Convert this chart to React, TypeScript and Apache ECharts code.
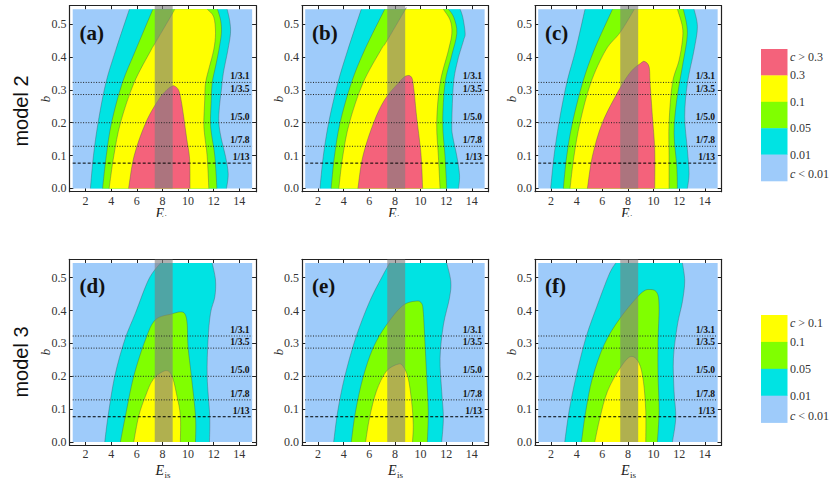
import React, { useEffect, useRef } from "react";
import * as echarts from "echarts";

// ---------- data ----------
const xTicks = [2, 4, 6, 8, 10, 12, 14];
const yTicks = [0, 0.1, 0.2, 0.3, 0.4, 0.5];
const refValues = [1 / 3.1, 1 / 3.5, 1 / 5.0, 1 / 7.8, 1 / 13];
const refLabels = ["1/3.1", "1/3.5", "1/5.0", "1/7.8", "1/13"];
const bandRange = [7.4, 8.8];
const panelNames = ["(a)", "(b)", "(c)", "(d)", "(e)", "(f)"];
const model2Legend = ["c > 0.3", "0.3", "0.1", "0.05", "0.01", "c < 0.01"];
const model3Legend = ["c > 0.1", "0.1", "0.05", "0.01", "c < 0.01"];
const rowTitles = ["model 2", "model 3"];

// contour boundaries (each chain from bottom to top)
const aCyanL = [[2.38, 0], [2.62, 0.1], [2.98, 0.2], [3.58, 0.32], [4.35, 0.42], [5.42, 0.545]];
const aCyanR = [[13.0, 0], [13.13, 0.045], [12.92, 0.098], [12.6, 0.15], [12.4, 0.2], [12.45, 0.25], [12.6, 0.3], [12.75, 0.35], [13.1, 0.42], [13.31, 0.472], [13.25, 0.51], [13.05, 0.545]];
const aGreenL = [[3.33, 0], [3.62, 0.1], [4.03, 0.2], [4.86, 0.32], [5.9, 0.42], [7.25, 0.545]];
const aGreenR = [[12.25, 0], [12.09, 0.098], [11.85, 0.16], [11.75, 0.2], [11.8, 0.26], [11.88, 0.32], [12.14, 0.37], [12.4, 0.42], [12.6, 0.472], [12.55, 0.51], [12.3, 0.545]];
const aYellowL = [[3.84, 0], [4.21, 0.1], [4.73, 0.2], [5.77, 0.32], [7.1, 0.42], [7.4, 0.44], [8.75, 0.53], [8.95, 0.545]];
const aYellowR = [[11.62, 0], [11.49, 0.098], [11.3, 0.16], [11.23, 0.2], [11.3, 0.27], [11.36, 0.32], [11.67, 0.371], [12.0, 0.421], [12.14, 0.472], [12.0, 0.522], [11.5, 0.545]];
const aRedL = [[5.36, 0], [5.8, 0.1], [6.7, 0.2], [7.7, 0.27], [8.35, 0.3], [8.7, 0.31], [8.92, 0.312]];
const aRedR = [[10.15, 0], [10.12, 0.09], [9.9, 0.15], [9.65, 0.22], [9.45, 0.27], [9.25, 0.3], [8.92, 0.312]];

const bCyanL = [[2.15, 0], [2.41, 0.098], [2.83, 0.2], [3.54, 0.32], [4.32, 0.421], [5.37, 0.545]];
const bCyanR = [[12.96, 0], [13.04, 0.04], [12.83, 0.098], [12.5, 0.16], [12.44, 0.2], [12.57, 0.32], [12.9, 0.39], [13.35, 0.45], [13.48, 0.472], [13.3, 0.52], [13.09, 0.545]];
const bGreenL = [[3.02, 0], [3.28, 0.098], [3.72, 0.2], [4.59, 0.32], [5.63, 0.421], [7.2, 0.545]];
const bGreenR = [[12.04, 0], [11.91, 0.098], [11.73, 0.2], [11.91, 0.32], [12.4, 0.4], [12.83, 0.472], [12.6, 0.52], [12.18, 0.545]];
const bYellowL = [[3.62, 0], [3.93, 0.098], [4.45, 0.2], [5.5, 0.32], [6.9, 0.421], [7.33, 0.446], [8.77, 0.542], [8.8, 0.545]];
const bYellowR = [[11.52, 0], [11.39, 0.098], [11.26, 0.2], [11.52, 0.32], [12.18, 0.421], [12.44, 0.472], [12.31, 0.512], [11.78, 0.545]];
const bRedL = [[5.11, 0], [5.5, 0.098], [6.34, 0.2], [7.2, 0.27], [8.25, 0.32], [8.85, 0.342]];
const bRedR = [[10.16, 0], [10.1, 0.06], [10.0, 0.118], [9.69, 0.219], [9.48, 0.3], [9.3, 0.338], [8.85, 0.342]];

const cCyanL = [[1.97, 0], [2.23, 0.098], [2.62, 0.2], [3.22, 0.32], [3.92, 0.421], [4.65, 0.545]];
const cCyanR = [[12.64, 0], [12.77, 0.046], [12.64, 0.118], [12.43, 0.219], [12.64, 0.32], [13.16, 0.421], [13.42, 0.492], [13.16, 0.545]];
const cGreenL = [[2.96, 0], [3.22, 0.098], [3.67, 0.2], [4.45, 0.32], [5.36, 0.421], [6.79, 0.545]];
const cGreenR = [[11.86, 0], [11.81, 0.068], [11.6, 0.169], [11.81, 0.27], [12.25, 0.371], [12.64, 0.472], [12.33, 0.545]];
const cYellowL = [[3.48, 0], [3.79, 0.098], [4.26, 0.2], [5.09, 0.32], [6.27, 0.421], [7.4, 0.475], [8.5, 0.545]];
const cYellowR = [[11.21, 0], [11.21, 0.098], [11.21, 0.2], [11.47, 0.32], [11.99, 0.39], [12.25, 0.451], [12.25, 0.492], [11.86, 0.545]];
const cRedL = [[4.84, 0], [5.23, 0.098], [6.01, 0.2], [7.31, 0.3], [8.22, 0.355], [9.0, 0.381], [9.31, 0.386]];
const cRedR = [[10.09, 0], [10.09, 0.118], [9.91, 0.219], [9.73, 0.32], [9.65, 0.37], [9.31, 0.386]];

const dCyanL = [[3.5, 0], [3.76, 0.079], [4.28, 0.2], [5.06, 0.311], [5.89, 0.392], [6.93, 0.495], [7.85, 0.545]];
const dCyanR = [[11.67, 0], [11.69, 0.079], [11.49, 0.2], [11.56, 0.311], [11.75, 0.392], [12.09, 0.442], [12.14, 0.493], [11.88, 0.545]];
const dGreenL = [[4.72, 0], [5.11, 0.079], [5.76, 0.2], [6.67, 0.311], [7.45, 0.372], [8.75, 0.39], [9.4, 0.396]];
const dGreenR = [[10.58, 0], [10.58, 0.079], [10.26, 0.2], [10.0, 0.29], [9.93, 0.361], [9.75, 0.39], [9.4, 0.396]];
const dYellowL = [[5.76, 0], [6.15, 0.079], [6.67, 0.139], [7.27, 0.19], [8.23, 0.217]];
const dYellowR = [[9.4, 0], [9.4, 0.079], [9.14, 0.139], [8.75, 0.2], [8.23, 0.217]];

const eCyanL = [[3.22, 0], [3.54, 0.094], [4.06, 0.195], [4.93, 0.316], [6.02, 0.427], [7.07, 0.508], [7.6, 0.545]];
const eCyanR = [[11.65, 0], [11.78, 0.074], [11.65, 0.154], [11.52, 0.255], [11.78, 0.356], [12.25, 0.437], [12.36, 0.488], [12.04, 0.545]];
const eGreenL = [[4.59, 0], [4.93, 0.094], [5.5, 0.195], [6.29, 0.286], [7.33, 0.356], [8.6, 0.415], [9.69, 0.429]];
const eGreenR = [[10.53, 0], [10.6, 0.094], [10.47, 0.205], [10.34, 0.306], [10.21, 0.397], [10.08, 0.422], [9.69, 0.429]];
const eYellowL = [[5.71, 0], [6.02, 0.074], [6.55, 0.154], [7.33, 0.215], [8.25, 0.237]];
const eYellowR = [[9.37, 0], [9.43, 0.053], [9.3, 0.124], [9.03, 0.195], [8.64, 0.23], [8.25, 0.237]];

const fCyanL = [[3.07, 0], [3.41, 0.094], [3.93, 0.195], [4.71, 0.316], [5.62, 0.417], [6.53, 0.51], [7.05, 0.545]];
const fCyanR = [[11.47, 0], [11.73, 0.074], [11.6, 0.154], [11.55, 0.255], [11.86, 0.356], [12.25, 0.427], [12.43, 0.49], [12.25, 0.545]];
const fGreenL = [[4.37, 0], [4.71, 0.094], [5.23, 0.195], [6.14, 0.296], [7.39, 0.377], [9.0, 0.452], [9.78, 0.464]];
const fGreenR = [[10.3, 0], [10.43, 0.094], [10.35, 0.205], [10.35, 0.306], [10.43, 0.407], [10.3, 0.452], [9.78, 0.464]];
const fYellowL = [[5.41, 0], [5.82, 0.074], [6.4, 0.154], [7.39, 0.225], [8.22, 0.26]];
const fYellowR = [[9.39, 0], [9.39, 0.094], [9.21, 0.184], [8.87, 0.24], [8.22, 0.26]];

// ---------- style ----------
const BLUE = "#9ecbfa";
const CYAN = "#00e3e3";
const GREEN = "#80ff00";
const YELLOW = "#ffff00";
const RED = "#f4627b";
const EDGE = "rgba(70,80,90,0.55)";
const SERIF = "Liberation Serif";
const SANS = "Liberation Sans";

const panelLevels = [
  [{ L: aCyanL, R: aCyanR, color: CYAN }, { L: aGreenL, R: aGreenR, color: GREEN }, { L: aYellowL, R: aYellowR, color: YELLOW }, { L: aRedL, R: aRedR, color: RED }],
  [{ L: bCyanL, R: bCyanR, color: CYAN }, { L: bGreenL, R: bGreenR, color: GREEN }, { L: bYellowL, R: bYellowR, color: YELLOW }, { L: bRedL, R: bRedR, color: RED }],
  [{ L: cCyanL, R: cCyanR, color: CYAN }, { L: cGreenL, R: cGreenR, color: GREEN }, { L: cYellowL, R: cYellowR, color: YELLOW }, { L: cRedL, R: cRedR, color: RED }],
  [{ L: dCyanL, R: dCyanR, color: CYAN }, { L: dGreenL, R: dGreenR, color: GREEN }, { L: dYellowL, R: dYellowR, color: YELLOW }],
  [{ L: eCyanL, R: eCyanR, color: CYAN }, { L: eGreenL, R: eGreenR, color: GREEN }, { L: eYellowL, R: eYellowR, color: YELLOW }],
  [{ L: fCyanL, R: fCyanR, color: CYAN }, { L: fGreenL, R: fGreenR, color: GREEN }, { L: fYellowL, R: fYellowR, color: YELLOW }],
];
const legend2Colors = [RED, YELLOW, GREEN, CYAN, BLUE];
const legend3Colors = [YELLOW, GREEN, CYAN, BLUE];

// ---------- layout ----------
const FRAME_LEFT = [69.5, 302, 535];
const FRAME_TOP = [5.7, 259.3];
const FW = 186.5;
const FH = 186;
const X_MIN = 0.75, X_MAX = 15.3;
const Y_MIN = -0.01, Y_MAX = 0.556;
const FILL_X = [1, 15];
const FILL_TOP = 0.545;

const pt = (p: number[]) => `${p[0].toFixed(2)},${p[1].toFixed(2)}`;
function curve(pts: number[][]) {
  let s = "";
  for (let i = 0; i < pts.length - 1; i++) {
    const p0 = pts[i - 1] || pts[i];
    const p1 = pts[i];
    const p2 = pts[i + 1];
    const p3 = pts[i + 2] || p2;
    const c1 = [p1[0] + (p2[0] - p0[0]) / 6, p1[1] + (p2[1] - p0[1]) / 6];
    const c2 = [p2[0] - (p3[0] - p1[0]) / 6, p2[1] - (p3[1] - p1[1]) / 6];
    s += ` C${pt(c1)} ${pt(c2)} ${pt(p2)}`;
  }
  return s;
}

function contourRender(levels: any[]) {
  return (params: any, api: any) => {
    const lv = levels[api.value(0)];
    const L = lv.L.map((p: number[]) => api.coord(p));
    const R = lv.R.map((p: number[]) => api.coord(p));
    const lTop = lv.L[lv.L.length - 1];
    const rTop = lv.R[lv.R.length - 1];
    const apex = lTop[0] === rTop[0] && lTop[1] === rTop[1];
    let fillD: string, strokeD: string;
    if (apex) {
      const chain = L.concat(R.slice(0, -1).reverse());
      const body = "M" + pt(chain[0]) + curve(chain);
      fillD = body + " Z";
      strokeD = body;
    } else {
      const rr = R.slice().reverse();
      const lPart = "M" + pt(L[0]) + curve(L);
      const rPart = curve(rr);
      fillD = lPart + " L" + pt(rr[0]) + rPart + " Z";
      strokeD = lPart + " M" + pt(rr[0]) + rPart;
    }
    return {
      type: "group",
      children: [
        { type: "path", shape: { pathData: fillD }, style: { fill: lv.color } },
        { type: "path", shape: { pathData: strokeD }, style: { fill: "none", stroke: EDGE, lineWidth: 0.7 } },
      ],
    };
  };
}

function buildOption() {
  const grid: any[] = [];
  const xAxis: any[] = [];
  const yAxis: any[] = [];
  const series: any[] = [];
  const graphic: any[] = [];
  const axisLine = { show: true, onZero: false, lineStyle: { color: "#222", width: 1.2 } };

  for (let p = 0; p < 6; p++) {
    const col = p % 3;
    const row = Math.floor(p / 3);
    const left = FRAME_LEFT[col];
    const top = FRAME_TOP[row];
    grid.push({ left, top, width: FW, height: FH, containLabel: false });
    for (const pos of ["bottom", "top"]) {
      xAxis.push({
        type: "value", gridIndex: p, position: pos, min: X_MIN, max: X_MAX,
        axisLine,
        axisTick: { show: true, inside: true, length: 4, customValues: xTicks, lineStyle: { color: "#222", width: 1 } },
        axisLabel: { show: pos === "bottom", customValues: xTicks, margin: 3, fontFamily: SERIF, fontSize: 12, color: "#333" },
        splitLine: { show: false },
      });
    }
    for (const pos of ["left", "right"]) {
      yAxis.push({
        type: "value", gridIndex: p, position: pos, min: Y_MIN, max: Y_MAX,
        axisLine,
        axisTick: { show: true, inside: true, length: 4, customValues: yTicks, lineStyle: { color: "#222", width: 1 } },
        axisLabel: { show: pos === "left", customValues: yTicks, margin: 3, fontFamily: SERIF, fontSize: 12, color: "#333", formatter: (v: number) => v.toFixed(1) },
        splitLine: { show: false },
      });
    }
    const xi = 2 * p, yi = 2 * p;
    series.push({
      type: "custom", xAxisIndex: xi, yAxisIndex: yi, silent: true, clip: true,
      data: [[FILL_X[0], FILL_X[1]]],
      renderItem: (params: any, api: any) => {
        const a = api.coord([api.value(0), FILL_TOP]);
        const b = api.coord([api.value(1), 0]);
        return { type: "rect", shape: { x: a[0], y: a[1], width: b[0] - a[0], height: b[1] - a[1] }, style: { fill: BLUE } };
      },
    });
    const levels = panelLevels[p];
    series.push({
      type: "custom", xAxisIndex: xi, yAxisIndex: yi, silent: true, clip: true,
      data: levels.map((_: any, i: number) => [i]),
      renderItem: contourRender(levels),
    });
    series.push({
      type: "custom", xAxisIndex: xi, yAxisIndex: yi, silent: true, clip: true,
      data: [bandRange],
      renderItem: (params: any, api: any) => {
        const a = api.coord([api.value(0), Y_MAX]);
        const b = api.coord([api.value(1), 0]);
        return { type: "rect", shape: { x: a[0], y: a[1], width: b[0] - a[0], height: b[1] - a[1] }, style: { fill: "rgba(128,128,128,0.62)" } };
      },
    });
    series.push({
      type: "custom", xAxisIndex: xi, yAxisIndex: yi, silent: true, clip: false,
      data: refValues.map((v, i) => [v, i]),
      renderItem: (params: any, api: any) => {
        const y = api.value(0);
        const idx = api.value(1);
        const a = api.coord([FILL_X[0], y]);
        const b = api.coord([FILL_X[1], y]);
        const t = api.coord([14.8, y]);
        const dashed = idx === refValues.length - 1;
        return {
          type: "group",
          children: [
            { type: "line", shape: { x1: a[0], y1: a[1], x2: b[0], y2: b[1] }, style: { stroke: dashed ? "#000" : "#222", lineWidth: 1, lineDash: dashed ? [3, 2] : [1, 1.6] } },
            { type: "text", x: t[0], y: t[1] - 1, style: { text: refLabels[idx], fontFamily: SERIF, fontWeight: "bold", fontSize: 9.5, fill: "#111", textAlign: "right", textVerticalAlign: "bottom" } },
          ],
        };
      },
    });
    // panel letter
    graphic.push({ type: "text", x: left + 10, y: top + 27, z: 100, style: { text: panelNames[p], fontFamily: SERIF, fontWeight: "bold", fontSize: 21, fill: "#111", textAlign: "left", textVerticalAlign: "middle" } });
    // x axis title
    const cx = left + 93.5;
    const ty = row === 0 ? top + 208 : top + 211.4;
    graphic.push({ type: "text", x: cx - 7.5, y: ty, z: 100, style: { text: "E", fontFamily: SERIF, fontStyle: "italic", fontSize: 14, fill: "#222", textAlign: "left", textVerticalAlign: "middle" } });
    graphic.push({ type: "text", x: cx + 1.5, y: ty + 4, z: 100, style: { text: "is", fontFamily: SERIF, fontSize: 9, fill: "#222", textAlign: "left", textVerticalAlign: "middle" } });
  }
  // cover that crops the top-row axis titles
  graphic.push({ type: "rect", z: 150, shape: { x: 40, y: 217, width: 700, height: 14 }, style: { fill: "#fff" } });

  // row titles and y axis titles
  const rowCenters = [111, 362];
  const bCenters = [99, 352];
  for (let r = 0; r < 2; r++) {
    graphic.push({ type: "text", x: 21, y: rowCenters[r], rotation: Math.PI / 2, z: 100, style: { text: rowTitles[r], fontFamily: SANS, fontSize: 20, fill: "#111", textAlign: "center", textVerticalAlign: "middle" } });
    for (let c = 0; c < 3; c++) {
      graphic.push({ type: "text", x: FRAME_LEFT[c] - 24, y: bCenters[r], rotation: Math.PI / 2, z: 100, style: { text: "b", fontFamily: SERIF, fontStyle: "italic", fontSize: 13, fill: "#222", textAlign: "center", textVerticalAlign: "middle" } });
    }
  }

  // legends
  const legends = [
    { labels: model2Legend, colors: legend2Colors, top: 49, h: 26.4 },
    { labels: model3Legend, colors: legend3Colors, top: 315, h: 26.9 },
  ];
  for (const lg of legends) {
    const n = lg.colors.length;
    lg.colors.forEach((col, i) => {
      graphic.push({ type: "rect", z: 100, shape: { x: 761, y: lg.top + i * lg.h, width: 26.5, height: lg.h + 0.3 }, style: { fill: col } });
    });
    lg.labels.forEach((lab, i) => {
      let y = lg.top + i * lg.h;
      if (i === 0) y = lg.top + 8;
      if (i === lg.labels.length - 1) y = lg.top + n * lg.h - 7;
      const isC = lab.startsWith("c ");
      graphic.push({
        type: "text", x: 790, y, z: 100,
        style: {
          text: isC ? "{i|c}" + lab.slice(1) : lab,
          fontFamily: SERIF, fontSize: 12, fill: "#333", textAlign: "left", textVerticalAlign: "middle",
          rich: { i: { fontFamily: SERIF, fontStyle: "italic", fontSize: 12, fill: "#333" } },
        },
      });
    });
  }

  return { animation: false, backgroundColor: "#fff", grid, xAxis, yAxis, series, graphic };
}

export default function App() {
  const ref = useRef<HTMLDivElement>(null);
  useEffect(() => {
    if (!ref.current) return;
    const chart = echarts.init(ref.current, undefined, { renderer: "svg" });
    chart.setOption(buildOption() as any);
    return () => chart.dispose();
  }, []);
  return <div ref={ref} style={{ position: "fixed", left: 0, top: 0, width: 830, height: 480 }} />;
}
